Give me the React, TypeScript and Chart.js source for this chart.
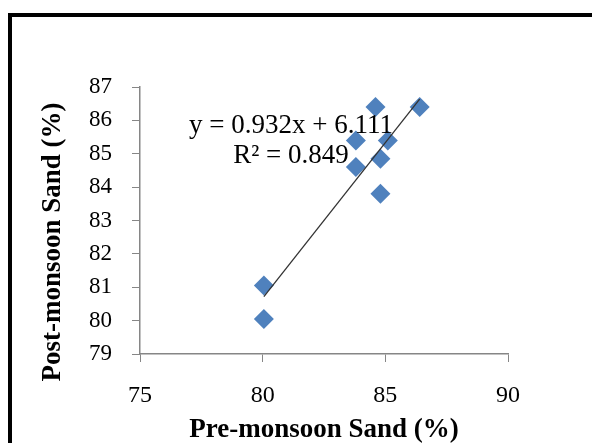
import React, { useEffect, useRef } from "react";
import { Chart, registerables } from "chart.js";

Chart.register(...registerables);

const preMonsoon = [80.05, 80.05, 83.8, 83.8, 84.6, 84.8, 84.8, 85.1, 86.4];
const postMonsoon = [81.05, 80.05, 85.4, 84.6, 86.4, 84.85, 83.8, 85.4, 86.4];
const slope = 0.932;
const intercept = 6.111;
const equationText = "y = 0.932x + 6.111";
const r2Text = "R² = 0.849";
const xTitle = "Pre-monsoon Sand (%)";
const yTitle = "Post-monsoon Sand (%)";
const xMin = 75, xMax = 90, xStep = 5;
const yMin = 79, yMax = 87, yStep = 1;

const FONT = "'Liberation Serif', 'Times New Roman', serif";
const AXIS = "#868686";

export default function App() {
  const ref = useRef<HTMLCanvasElement>(null);
  useEffect(() => {
    const canvas = ref.current!;
    const lo = Math.min(...preMonsoon);
    const hi = Math.max(...preMonsoon);
    const trend = [lo, hi].map((x) => ({ x, y: slope * x + intercept }));

    const decor = {
      id: "decor",
      beforeDraw(chart: any) {
        const ctx = chart.ctx;
        ctx.save();
        ctx.fillStyle = "#fff";
        ctx.fillRect(0, 0, chart.width, chart.height);
        ctx.strokeStyle = "#000";
        ctx.lineWidth = 4;
        ctx.strokeRect(10, 15, chart.width + 20, chart.height + 20);
        ctx.restore();
      },
      afterDraw(chart: any) {
        const ctx = chart.ctx;
        ctx.save();
        ctx.fillStyle = "#000";
        ctx.font = "bold 27px " + FONT;
        ctx.textAlign = "center";
        ctx.textBaseline = "middle";
        ctx.translate(53, 242);
        ctx.rotate(-Math.PI / 2);
        ctx.fillText(yTitle, 0, 0);
        ctx.restore();

        ctx.save();
        ctx.fillStyle = "#000";
        ctx.font = "27px " + FONT;
        ctx.textAlign = "center";
        ctx.textBaseline = "middle";
        ctx.fillText(equationText, 291, 126);
        ctx.fillText(r2Text, 291, 156);
        ctx.restore();
      },
    };

    const chart = new Chart(canvas, {
      type: "scatter",
      data: {
        datasets: [
          {
            label: "Sand",
            data: preMonsoon.map((x, i) => ({ x, y: postMonsoon[i] })),
            pointStyle: "rectRot",
            pointRadius: 10,
            pointHoverRadius: 10,
            backgroundColor: "#4F81BD",
            borderColor: "#4F81BD",
            borderWidth: 0,
            order: 2,
          },
          {
            type: "line",
            label: "Linear",
            data: trend,
            borderColor: "#333",
            borderWidth: 1.3,
            pointRadius: 0,
            fill: false,
            order: 1,
          } as any,
        ],
      },
      options: {
        animation: false,
        responsive: false,
        layout: { padding: { left: 0, top: 87, right: 84, bottom: 0 } },
        plugins: { legend: { display: false }, tooltip: { enabled: false } },
        scales: {
          x: {
            type: "linear",
            min: xMin,
            max: xMax,
            ticks: { stepSize: xStep, color: "#000", padding: 19, font: { family: FONT, size: 24 } },
            grid: { drawOnChartArea: false, color: AXIS, tickLength: 8, tickColor: AXIS },
            border: { color: AXIS, width: 1.5 },
            title: {
              display: true,
              text: xTitle,
              color: "#000",
              font: { family: FONT, size: 27, weight: "bold", lineHeight: 1 },
              padding: { top: 0, bottom: -1 },
            },
            afterFit(scale: any) {
              scale.height = 89;
            },
          },
          y: {
            type: "linear",
            min: yMin,
            max: yMax,
            ticks: { stepSize: yStep, color: "#000", padding: 20, font: { family: FONT, size: 23 } },
            grid: { drawOnChartArea: false, color: AXIS, tickLength: 8, tickColor: AXIS },
            border: { color: AXIS, width: 1.5 },
            afterFit(scale: any) {
              scale.width = 140;
            },
          },
        },
      },
      plugins: [decor],
    } as any);
    return () => chart.destroy();
  }, []);
  return (
    <div style={{ position: "fixed", left: 0, top: 0, width: 592, height: 443 }}>
      <canvas ref={ref} width={592} height={443} style={{ display: "block" }} />
    </div>
  );
}
